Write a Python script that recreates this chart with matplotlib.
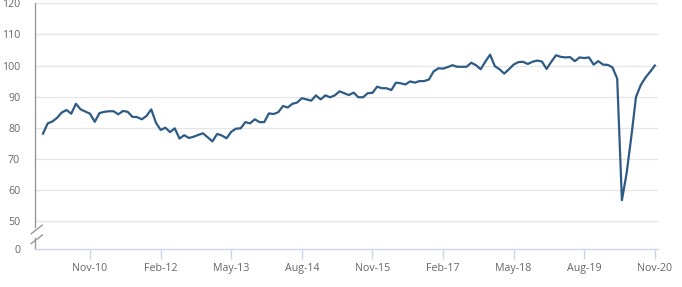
import matplotlib
matplotlib.use("Agg")
import matplotlib.pyplot as plt
import pandas as pd

# monthly index, Jan-2010 .. Nov-2020
start_month = "2010-01-01"
values = [
    78.1, 81.4, 82.0, 83.2, 84.9, 85.7, 84.5, 87.7, 85.9, 85.2,
    84.5, 81.9, 84.7, 85.1, 85.3, 85.3, 84.3, 85.4, 85.1, 83.5,
    83.4, 82.7, 83.8, 85.9, 81.6, 79.3, 80.0, 78.6, 79.8, 76.5,
    77.6, 76.7, 77.1, 77.7, 78.2, 76.9, 75.6, 78.0, 77.5, 76.6,
    78.7, 79.7, 79.8, 81.8, 81.4, 82.7, 81.8, 81.8, 84.6, 84.4,
    85.0, 87.0, 86.5, 87.7, 88.1, 89.5, 89.1, 88.7, 90.4, 89.1,
    90.4, 89.8, 90.4, 91.7, 91.1, 90.5, 91.3, 89.8, 89.8, 91.1,
    91.2, 93.2, 92.7, 92.7, 92.1, 94.5, 94.3, 93.9, 94.9, 94.5,
    95.0, 95.0, 95.5, 98.1, 99.1, 99.0, 99.5, 100.1, 99.6, 99.6,
    99.6, 100.9, 100.1, 98.8, 101.3, 103.5, 99.8, 98.8, 97.4, 98.8,
    100.3, 101.1, 101.2, 100.5, 101.2, 101.6, 101.3, 98.9, 101.2, 103.3,
    102.8, 102.6, 102.7, 101.4, 102.6, 102.4, 102.6, 100.3, 101.4, 100.3,
    100.2, 99.4, 95.8, 56.7, 65.3, 77.1, 89.9, 93.7, 96.1, 98.0,
    100.0,
]
dates = pd.date_range(start_month, periods=len(values), freq="MS")
tick_labels = ["Nov-10", "Feb-12", "May-13", "Aug-14", "Nov-15",
               "Feb-17", "May-18", "Aug-19", "Nov-20"]
y_ticks = [50, 60, 70, 80, 90, 100, 110, 120]
y_floor = 41  # where the broken axis shows "0"

plt.rcParams["font.family"] = ["Open Sans", "DejaVu Sans"]

fig = plt.figure(figsize=(6.82, 2.87), dpi=100)
ax = fig.add_axes([0.052, 0.1324, 0.913, 0.856])

x = list(range(len(values)))
ax.plot(x, values, color="#2e5b86", lw=1.6, solid_joinstyle="round", zorder=3)

ax.set_ylim(y_floor, 120)
ax.set_xlim(-1.6, 130.7)

ax.set_yticks([y_floor] + y_ticks)
ax.set_yticklabels(["0"] + [str(v) for v in y_ticks])
for v in y_ticks:
    ax.axhline(v, color="#e6e6e6", lw=1, zorder=1)

pos = [list(dates.strftime("%b-%y")).index(t) for t in tick_labels]
ax.set_xticks(pos)
ax.set_xticklabels(tick_labels)

ax.tick_params(axis="y", length=0, pad=11, labelsize=7.7, labelcolor="#666666")
ax.tick_params(axis="x", length=7, width=1, color="#ccd6eb", pad=3,
               labelsize=7.7, labelcolor="#666666")

for s in ["top", "right", "left"]:
    ax.spines[s].set_visible(False)
ax.spines["bottom"].set_color("#ccd6eb")
ax.spines["bottom"].set_linewidth(1)

# left axis line with break marks
kw = dict(transform=ax.transAxes, color="#999999", lw=1, clip_on=False)
ax.plot([0, 0], [0.088, 1], **kw)
ax.plot([0, 0], [0, 0.045], **kw)
ax.plot([-0.007, 0.011], [0.062, 0.097], **kw)
ax.plot([-0.007, 0.011], [0.022, 0.057], **kw)

fig.savefig("out.png", dpi=100)
